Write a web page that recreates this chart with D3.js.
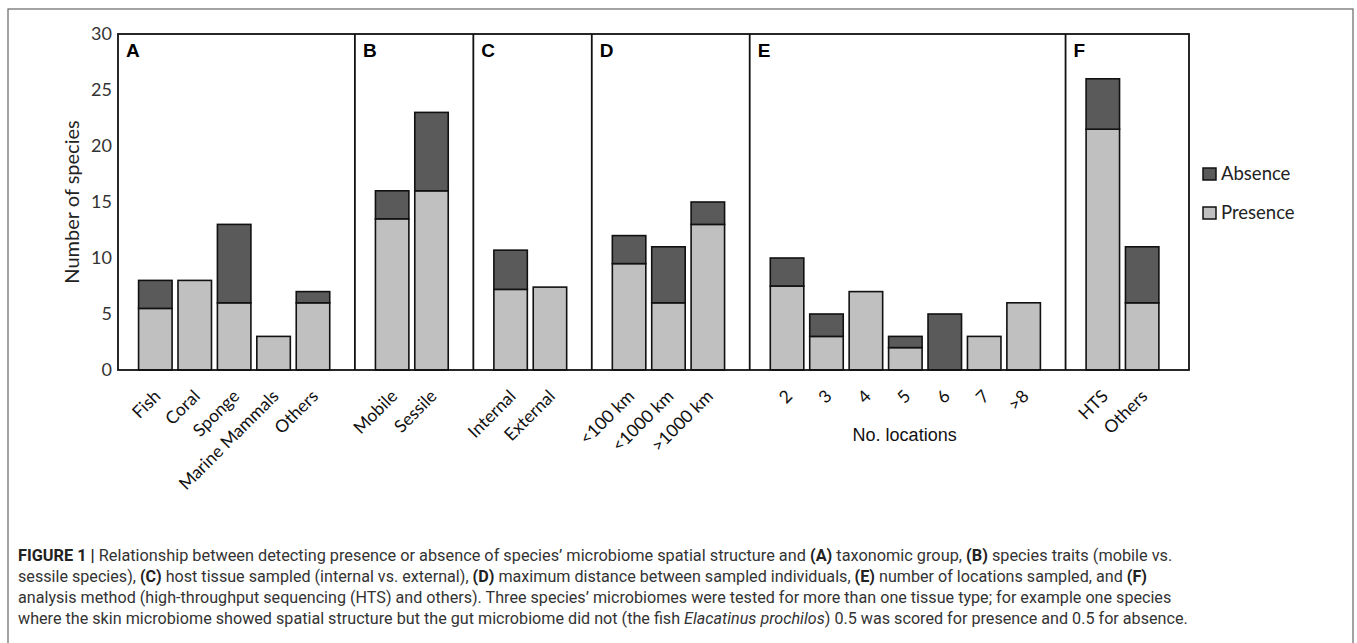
<!DOCTYPE html>
<html><head><meta charset="utf-8">
<script src="https://cdn.jsdelivr.net/npm/d3@7"></script>
<style>body{margin:0;background:#fff}svg{display:block}</style>
</head><body>
<svg id="c" width="1357" height="643"></svg>
<script>
// ---- data ----
const panelLetters = ["A","B","C","D","E","F"];
const catA = ["Fish","Coral","Sponge","Marine Mammals","Others"];
const presA = [5.5, 8, 6, 3, 6];
const absA  = [2.5, 0, 7, 0, 1];
const catB = ["Mobile","Sessile"];
const presB = [13.5, 16];
const absB  = [2.5, 7];
const catC = ["Internal","External"];
const presC = [7.2, 7.4];
const absC  = [3.5, 0];
const catD = ["<100 km","<1000 km",">1000 km"];
const presD = [9.5, 6, 13];
const absD  = [2.5, 5, 2];
const catE = ["2","3","4","5","6","7",">8"];
const presE = [7.5, 3, 7, 2, 0, 3, 6];
const absE  = [2.5, 2, 0, 1, 5, 0, 0];
const catF = ["HTS","Others"];
const presF = [21.5, 6];
const absF  = [4.5, 5];
const yTicks = [0,5,10,15,20,25,30];
const seriesNames = ["Absence","Presence"];
const captionLines = [
 [["b","FIGURE 1 | "],["n","Relationship between detecting presence or absence of species’ microbiome spatial structure and "],["b","(A)"],["n"," taxonomic group, "],["b","(B)"],["n"," species traits (mobile vs."]],
 [["n","sessile species), "],["b","(C)"],["n"," host tissue sampled (internal vs. external), "],["b","(D)"],["n"," maximum distance between sampled individuals, "],["b","(E)"],["n"," number of locations sampled, and "],["b","(F)"]],
 [["n","analysis method (high-throughput sequencing (HTS) and others). Three species’ microbiomes were tested for more than one tissue type; for example one species"]],
 [["n","where the skin microbiome showed spatial structure but the gut microbiome did not (the fish "],["i","Elacatinus prochilos"],["n",") 0.5 was scored for presence and 0.5 for absence."]]
];
const captionEnds = [1173, 1148, 1172, 1188];

(function(){
const panels = [
 {letter:"A", cats:catA, pres:presA, abs:absA},
 {letter:"B", cats:catB, pres:presB, abs:absB},
 {letter:"C", cats:catC, pres:presC, abs:absC},
 {letter:"D", cats:catD, pres:presD, abs:absD},
 {letter:"E", cats:catE, pres:presE, abs:absE, title:"No. locations"},
 {letter:"F", cats:catF, pres:presF, abs:absF}
];

const svg = d3.select("#c");
const colAbs = "#5a5a5a", colPres = "#c0c0c0";
const pLeft = 118, pRight = 1189, pTop = 34, pBottom = 370;
const y = d3.scaleLinear().domain([0,30]).range([pBottom, pTop]);

svg.append("rect").attr("x",8).attr("y",9).attr("width",1345).attr("height",700)
  .attr("fill","none").attr("stroke","#666").attr("stroke-width",1.2);

let cum = 0;
panels.forEach(p => { p.u0 = cum; cum += p.cats.length + 1; p.u1 = cum; });
const xu = d3.scaleLinear().domain([0, cum]).range([pLeft, pRight - 5]);

const g = svg.append("g");
panels.forEach((p, pi) => {
  const x0 = xu(p.u0), x1 = pi === panels.length - 1 ? pRight : xu(p.u1);
  const xb = d3.scaleBand().domain(p.cats).range([x0, xu(p.u1)]).paddingInner(0.15).paddingOuter(0.58).align(0.45);
  const data = p.cats.map((c,i)=>({c, pr:p.pres[i], ab:p.abs[i]}));
  g.selectAll(null).data(data.filter(d=>d.pr>0)).enter().append("rect")
    .attr("x", d=>xb(d.c)).attr("width", xb.bandwidth())
    .attr("y", d=>y(d.pr)).attr("height", d=>y(0)-y(d.pr))
    .attr("fill", colPres).attr("stroke","#111").attr("stroke-width",1.6);
  g.selectAll(null).data(data.filter(d=>d.ab>0)).enter().append("rect")
    .attr("x", d=>xb(d.c)).attr("width", xb.bandwidth())
    .attr("y", d=>y(d.pr+d.ab)).attr("height", d=>y(d.pr)-y(d.pr+d.ab))
    .attr("fill", colAbs).attr("stroke","#111").attr("stroke-width",1.6);
  g.selectAll(null).data(p.cats).enter().append("text")
    .attr("transform", c=>`translate(${xb(c)+xb.bandwidth()/2+2},${pBottom+23}) rotate(-45)`)
    .attr("text-anchor","end").attr("dy","0.35em")
    .attr("font-family","Lato, 'Open Sans', sans-serif").attr("font-size",17.5).attr("fill","#111")
    .text(c=>c);
  if (p.u0 > 0) g.append("line").attr("x1",x0).attr("x2",x0).attr("y1",pTop).attr("y2",pBottom)
    .attr("stroke","#111").attr("stroke-width",1.8);
  g.append("text").attr("x", x0+8).attr("y", pTop+23).attr("font-family","Arial, 'Liberation Sans', sans-serif")
    .attr("font-weight","bold").attr("font-size",19).attr("fill","#000").text(p.letter);
  if (p.title) g.append("text").attr("x",(x0+x1)/2 - 3).attr("y",441).attr("text-anchor","middle")
    .attr("font-family","Arial, 'Liberation Sans', sans-serif").attr("font-size",18).attr("fill","#111").text(p.title);
});

svg.append("rect").attr("x",pLeft).attr("y",pTop).attr("width",pRight-pLeft).attr("height",pBottom-pTop)
  .attr("fill","none").attr("stroke","#111").attr("stroke-width",1.8);

const yAxis = d3.axisLeft(y).tickValues(yTicks).tickSize(0).tickPadding(6);
const ya = svg.append("g").attr("transform",`translate(${pLeft},0)`).call(yAxis);
ya.select(".domain").remove();
ya.selectAll("text").attr("font-family","Lato, sans-serif").attr("font-size",18).attr("fill","#333");
svg.append("text").attr("transform",`translate(79,${(pTop+pBottom)/2}) rotate(-90)`).attr("text-anchor","middle")
  .attr("font-family","Lato, sans-serif").attr("font-size",20).attr("fill","#222").text("Number of species");

const lg = svg.append("g");
seriesNames.forEach((s,i)=>{
  lg.append("rect").attr("x",1203).attr("y",168+39*i).attr("width",13).attr("height",12)
    .attr("fill", s==="Absence"?colAbs:colPres).attr("stroke","#111").attr("stroke-width",1.5);
  lg.append("text").attr("x",1221).attr("y",180+39*i).attr("font-family","Lato, sans-serif")
    .attr("font-size",18.5).attr("fill","#222").text(s);
});

captionLines.forEach((line,i)=>{
  const t = svg.append("text").attr("x",0).attr("y",0)
    .attr("font-family","'Liberation Sans Narrow', 'Roboto', sans-serif").attr("font-size",16.5).attr("fill","#333");
  line.forEach(([k,s])=>{
    const ts = t.append("tspan").text(s);
    if (k==="b") ts.attr("font-weight","bold").attr("fill","#222");
    if (k==="i") ts.attr("font-style","italic");
  });
  const len = t.node().getComputedTextLength();
  const k = (captionEnds[i]-18)/len;
  t.attr("transform",`translate(18,${561+21*i}) scale(${k},1)`);
});
})();
</script>
</body></html>
